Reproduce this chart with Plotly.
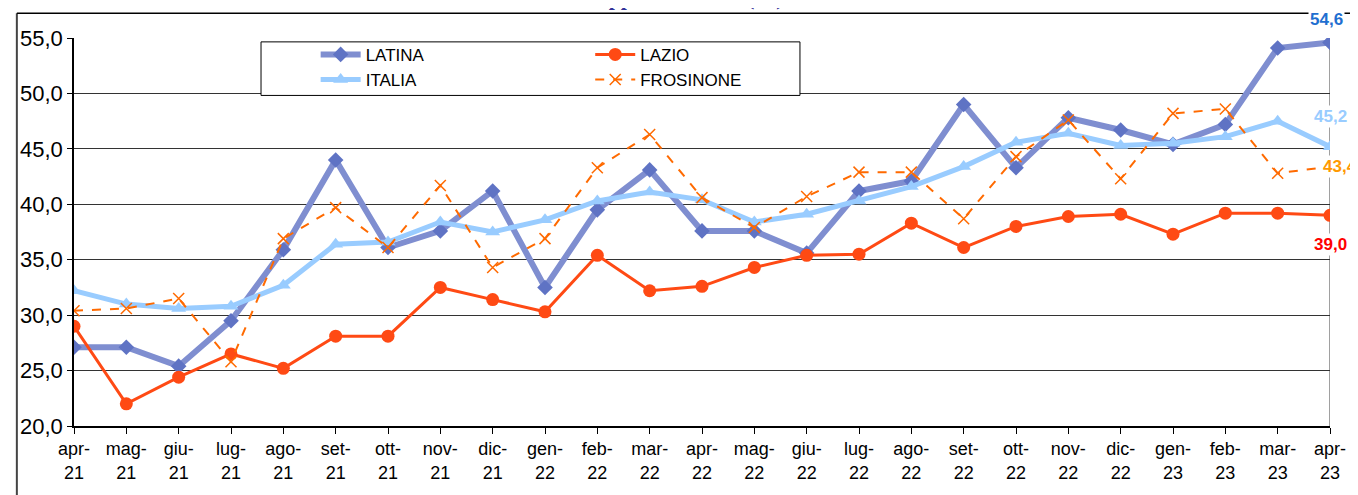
import plotly.graph_objects as go

# months on the x axis
mesi = ["apr-<br>21", "mag-<br>21", "giu-<br>21", "lug-<br>21", "ago-<br>21", "set-<br>21",
        "ott-<br>21", "nov-<br>21", "dic-<br>21", "gen-<br>22", "feb-<br>22", "mar-<br>22",
        "apr-<br>22", "mag-<br>22", "giu-<br>22", "lug-<br>22", "ago-<br>22", "set-<br>22",
        "ott-<br>22", "nov-<br>22", "dic-<br>22", "gen-<br>23", "feb-<br>23", "mar-<br>23",
        "apr-<br>23"]
pos = list(range(len(mesi)))

latina = [27.1, 27.1, 25.4, 29.5, 35.9, 44.0, 36.1, 37.6, 41.2, 32.5, 39.5, 43.1,
          37.6, 37.6, 35.6, 41.2, 42.1, 49.0, 43.3, 47.8, 46.7, 45.4, 47.2, 54.1, 54.6]
lazio = [29.0, 22.0, 24.4, 26.5, 25.2, 28.1, 28.1, 32.5, 31.4, 30.3, 35.4, 32.2,
         32.6, 34.3, 35.4, 35.5, 38.3, 36.1, 38.0, 38.9, 39.1, 37.3, 39.2, 39.2, 39.0]
italia = [32.2, 31.0, 30.6, 30.8, 32.7, 36.4, 36.6, 38.4, 37.5, 38.6, 40.3, 41.1,
          40.4, 38.4, 39.1, 40.3, 41.6, 43.4, 45.6, 46.4, 45.3, 45.5, 46.1, 47.5, 45.2]
frosinone = [30.4, 30.6, 31.5, 25.8, 36.9, 39.7, 36.1, 41.7, 34.3, 36.9, 43.3, 46.3,
             40.6, 37.9, 40.7, 42.9, 42.9, 38.7, 44.3, 47.6, 42.3, 48.2, 48.6, 42.8, 43.4]

fig = go.Figure()

fig.add_trace(go.Scatter(x=pos, y=latina, name="LATINA", mode="lines+markers",
                         line=dict(color="#7f8ed0", width=6),
                         marker=dict(symbol="diamond", size=12, color="#5f73c4"),
                         legend="legend"))
fig.add_trace(go.Scatter(x=pos, y=italia, name="ITALIA", mode="lines+markers",
                         line=dict(color="#99ccff", width=5),
                         marker=dict(symbol="triangle-up", size=13, color="#99ccff"),
                         legend="legend"))
fig.add_trace(go.Scatter(x=pos, y=lazio, name="LAZIO", mode="lines+markers",
                         line=dict(color="#ff4a14", width=3),
                         marker=dict(symbol="circle", size=13, color="#ff4a14"),
                         legend="legend2"))
fig.add_trace(go.Scatter(x=pos, y=frosinone, name="FROSINONE", mode="lines+markers",
                         line=dict(color="#ff6a00", width=2, dash="dash"),
                         marker=dict(symbol="x-thin-open", size=11,
                                     line=dict(color="#ff6a00", width=1.5)),
                         legend="legend2"))

# end-of-series labels
last = len(pos) - 1
etichette = [(latina[-1], "#1f6fd0", -4, 23), (italia[-1], "#99ccff", 0, 30),
             (frosinone[-1], "#ff9900", 10, 0), (lazio[-1], "#ff0000", 0, -29)]
for val, col, xs, ys in etichette:
    fig.add_annotation(x=last, y=val, text="<b>%s</b>" % ("%.1f" % val).replace(".", ","),
                       showarrow=False, xshift=xs, yshift=ys, bgcolor="white",
                       font=dict(color=col, size=17, family="Liberation Sans, Arial"))

# cut-off title at the top of the page
fig.add_annotation(xref="paper", yref="paper", x=0.47, y=1.066, yanchor="bottom",
                   text="<b>Grafico 4 - Tasso di apprendimento (%) - Serie storica</b>",
                   showarrow=False,
                   font=dict(color="#333399", size=22, family="Liberation Serif, Times New Roman"))

# legend frame, outer frame, right border
fig.add_shape(type="rect", xref="paper", yref="paper", x0=0.1489, x1=0.578, y0=0.852, y1=0.99,
              fillcolor="white", line=dict(color="black", width=1), layer="above")
fig.add_shape(type="line", xref="paper", yref="paper", x0=-0.0455, x1=-0.0455, y0=-0.3, y1=1.064,
              line=dict(color="#444444", width=2))
fig.add_shape(type="line", xref="paper", yref="paper", x0=-0.0455, x1=1.1, y0=1.064, y1=1.064,
              line=dict(color="black", width=1.5))
fig.add_shape(type="line", xref="x", yref="y", x0=last, x1=last, y0=20, y1=55,
              line=dict(color="#808080", width=1.5), layer="below")

leg = dict(orientation="v", y=1.003, xanchor="left", yanchor="top", tracegroupgap=0,
           bgcolor="rgba(0,0,0,0)", font=dict(size=17), itemwidth=40)

fig.update_layout(
    width=1350, height=487,
    margin=dict(l=59, r=28, t=30, b=65),
    paper_bgcolor="white", plot_bgcolor="white",
    separators=",.",
    font=dict(family="Liberation Sans, Arial", color="black"),
    showlegend=True,
    legend=dict(leg, x=0.1924),
    legend2=dict(leg, x=0.411),
)
fig.update_xaxes(range=[0, last], tickmode="array", tickvals=pos, ticktext=mesi,
                 showgrid=False, showline=True, linecolor="black", linewidth=1.5,
                 ticks="outside", ticklen=6, tickcolor="black", tickfont=dict(size=18),
                 zeroline=False)
fig.update_yaxes(range=[20, 55], dtick=5, tickformat=".1f", showgrid=True,
                 gridcolor="#333333", gridwidth=1, showline=True, linecolor="black",
                 linewidth=1.5, ticks="outside", ticklen=5, tickcolor="black",
                 tickfont=dict(size=22), zeroline=False)

fig.write_html("out.html")
